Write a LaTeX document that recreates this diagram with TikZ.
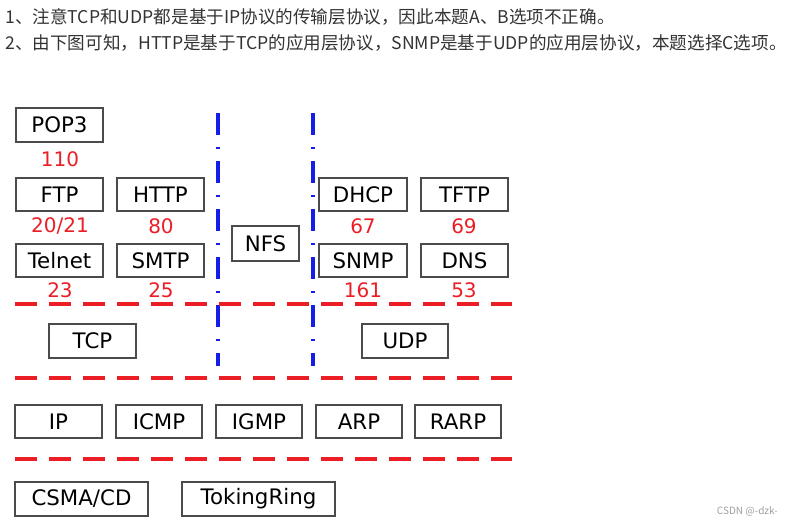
\documentclass[tikz,border=0pt]{standalone}
\usepackage{fontspec}
\setmainfont{DejaVu Sans}
\newfontfamily\cjk{Noto Sans CJK SC}
\usepackage{tikz}
\definecolor{portred}{RGB}{235,30,38}
\definecolor{lineblue}{RGB}{20,30,230}
\definecolor{boxgray}{RGB}{75,75,75}
\definecolor{notegray}{RGB}{51,51,51}

\begin{document}
\begin{tikzpicture}[x=0.75pt,y=-0.75pt,
		proto/.style={draw=boxgray,line width=1.3pt,minimum height=25pt,inner sep=0pt,font=\fontsize{16}{18}\selectfont},
		wd/.style={minimum width=#1*0.75pt},
		port/.style={text=portred,inner sep=0pt,font=\fontsize{15}{17}\selectfont},
		layer/.style={portred,line width=2.6pt,dash pattern=on 16.5pt off 9pt},
		side/.style={lineblue,line width=2.4pt,dash pattern=on 16.5pt off 9pt on 1.5pt off 9pt}]
			\useasboundingbox (0,0) rectangle (793,527);
			
			\node[anchor=west,inner sep=0pt,text=notegray,font=\cjk\fontsize{13.2}{16}\selectfont] (note1) at (5,17) {1、注意TCP和UDP都是基于IP协议的传输层协议，因此本题A、B选项不正确。};
			\node[anchor=west,inner sep=0pt,text=notegray,font=\cjk\fontsize{13.2}{16}\selectfont] (note2) at (5,43) {2、由下图可知，HTTP是基于TCP的应用层协议，SNMP是基于UDP的应用层协议，本题选择C选项。};
			
			\coordinate (s1a) at (218,113);
			\coordinate (s1b) at (218,366);
			\coordinate (s2a) at (313,113);
			\coordinate (s2b) at (313,366);
			\draw[side] (s1a) -- (s1b);
			\draw[side] (s2a) -- (s2b);
			
			\node[proto,wd=87] (pop3) at (59.5,125) {POP3};
			\node[proto,wd=87] (ftp) at (59.5,194.5) {FTP};
			\node[proto,wd=87] (http) at (160.5,194.5) {HTTP};
			\node[proto,wd=87] (telnet) at (59.5,260.5) {Telnet};
			\node[proto,wd=87] (smtp) at (160.5,260.5) {SMTP};
			\node[proto,wd=67,minimum height=26pt] (nfs) at (265.5,243.5) {NFS};
			\node[proto,wd=88] (dhcp) at (363,194.5) {DHCP};
			\node[proto,wd=87] (tftp) at (464.5,194.5) {TFTP};
			\node[proto,wd=88] (snmp) at (363,260.5) {SNMP};
			\node[proto,wd=87] (dns) at (464.5,260.5) {DNS};
			
			\node[port] (p110) at (60,159) {110};
			\node[port] (p2021) at (60,226) {20/21};
			\node[port] (p80) at (161,226) {80};
			\node[port] (p23) at (60,290) {23};
			\node[port] (p25) at (161,290) {25};
			\node[port] (p67) at (363,226) {67};
			\node[port] (p69) at (464,226) {69};
			\node[port] (p161) at (363,290) {161};
			\node[port] (p53) at (464,290) {53};
			
			\node[proto,wd=87] (tcp) at (92.5,341) {TCP};
			\node[proto,wd=86] (udp) at (405,341) {UDP};
			
			\node[proto,wd=87] (ip) at (58.5,421.5) {IP};
			\node[proto,wd=86] (icmp) at (159,421.5) {ICMP};
			\node[proto,wd=86] (igmp) at (259,421.5) {IGMP};
			\node[proto,wd=86] (arp) at (359,421.5) {ARP};
			\node[proto,wd=86] (rarp) at (458,421.5) {RARP};
			
			\node[proto,wd=133] (csma) at (81.5,499) {CSMA/CD};
			\node[proto,wd=153] (ring) at (258.5,499) {TokingRing};
			
			\foreach \y/\n in {304/1,378/2,459/3}{
				\coordinate (l\n a) at (15,\y);
				\coordinate (l\n b) at (512,\y);
				\draw[layer] (l\n a) -- (l\n b);
			}
			
			\node[anchor=east,inner sep=0pt,text=gray!75,font=\cjk\fontsize{7.5}{9}\selectfont] (mark) at (778,511) {CSDN @-dzk-};
		\end{tikzpicture}
\end{document}
